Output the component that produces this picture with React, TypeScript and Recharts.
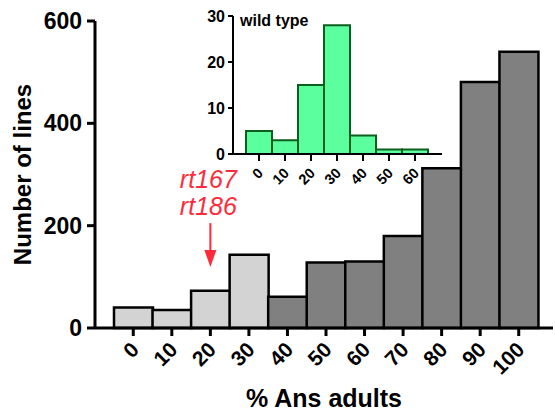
import React from 'react';
import { BarChart, Bar, XAxis, YAxis, Cell, ReferenceDot, Label } from 'recharts';

const categories = ['0', '10', '20', '30', '40', '50', '60', '70', '80', '90', '100'];
const mutantCounts = [40, 35, 73, 143, 61, 128, 130, 180, 312, 481, 540];
const lightCategories = ['0', '10', '20', '30'];
const mainYTicks = [0, 200, 400, 600];

const wildTypeCategories = ['0', '10', '20', '30', '40', '50', '60'];
const wildTypeCounts = [5, 3, 15, 28, 4, 1, 1];
const insetYTicks = [0, 10, 20, 30];

const annotationLabels = ['rt167', 'rt186'];
const annotationCategory = '20';
const annotationValue = 119;

const FONT = '"Liberation Sans", Arial, Helvetica, sans-serif';
const RED = '#ff2b3a';

const mainData = categories.map((bin, i) => ({ bin, count: mutantCounts[i] }));
const insetData = wildTypeCategories.map((bin, i) => ({ bin, count: wildTypeCounts[i] }));

const MainTick = (props: any) => {
  const { x, y, payload } = props;
  return (
    <g transform={`translate(${x + 7},${y + 13})`}>
      <text transform="rotate(-45)" textAnchor="end" fontSize={21} fontWeight="bold" fill="#000" fontFamily={FONT}>
        {payload.value}
      </text>
    </g>
  );
};

const InsetTick = (props: any) => {
  const { x, y, payload } = props;
  return (
    <g transform={`translate(${x + 5},${y + 11})`}>
      <text transform="rotate(-45)" textAnchor="end" fontSize={14.5} fontWeight="bold" fill="#000" fontFamily={FONT}>
        {payload.value}
      </text>
    </g>
  );
};

const ArrowAnnotation = (props: any) => {
  const { cx, cy } = props;
  return (
    <g>
      <text x={cx - 2} y={cy - 79} textAnchor="middle" fontSize={25} fontStyle="italic" fill={RED} fontFamily={FONT}>
        {annotationLabels[0]}
      </text>
      <text x={cx - 2} y={cy - 52} textAnchor="middle" fontSize={25} fontStyle="italic" fill={RED} fontFamily={FONT}>
        {annotationLabels[1]}
      </text>
      <line x1={cx} y1={cy - 44} x2={cx} y2={cy - 14} stroke={RED} strokeWidth={2} />
      <polygon points={`${cx - 6},${cy - 17} ${cx + 6},${cy - 17} ${cx},${cy}`} fill={RED} />
    </g>
  );
};

export default function App() {
  return (
    <div style={{ position: 'absolute', left: 0, top: 0, width: 555, height: 413, background: '#fff' }}>
      <div style={{ position: 'absolute', left: 0, top: 0 }}>
        <BarChart
          width={555}
          height={413}
          data={mainData}
          margin={{ top: 21, right: 2, bottom: 0, left: 35 }}
          barCategoryGap={0}
          barGap={0}
        >
          <XAxis
            dataKey="bin"
            type="category"
            interval={0}
            height={85}
            padding={{ left: 19, right: 15 }}
            tickSize={8}
            axisLine={{ stroke: '#000', strokeWidth: 3 }}
            tickLine={{ stroke: '#000', strokeWidth: 3 }}
            tick={<MainTick />}
          >
            <Label
              content={(p: any) => {
                const vb = p.viewBox || { x: 95, y: 328, width: 458 };
                return (
                  <text x={vb.x + vb.width / 2} y={vb.y + 79} textAnchor="middle" fontSize={25} fontWeight="bold" fill="#000" fontFamily={FONT}>
                    % Ans adults
                  </text>
                );
              }}
            />
          </XAxis>
          <YAxis
            width={60}
            domain={[0, 600]}
            ticks={mainYTicks}
            tickSize={8}
            tickMargin={5}
            axisLine={{ stroke: '#000', strokeWidth: 3 }}
            tickLine={{ stroke: '#000', strokeWidth: 3 }}
            tick={{ fontSize: 23, fontWeight: 'bold', fill: '#000', fontFamily: FONT }}
          >
            <Label
              content={(p: any) => {
                const vb = p.viewBox || { x: 35, y: 21, width: 60, height: 307 };
                const cx = vb.x - 13;
                const cy = vb.y + vb.height / 2;
                return (
                  <text
                    x={cx}
                    y={cy}
                    transform={`rotate(-90, ${cx}, ${cy})`}
                    textAnchor="middle"
                    dominantBaseline="central"
                    fontSize={24}
                    fontWeight="bold"
                    fill="#000"
                    fontFamily={FONT}
                  >
                    Number of lines
                  </text>
                );
              }}
            />
          </YAxis>
          <Bar dataKey="count" isAnimationActive={false} stroke="#000" strokeWidth={2.5}>
            {mainData.map((d) => (
              <Cell key={d.bin} fill={lightCategories.includes(d.bin) ? '#d3d3d3' : '#808080'} />
            ))}
          </Bar>
          <ReferenceDot x={annotationCategory} y={annotationValue} ifOverflow="visible" shape={<ArrowAnnotation />} />
        </BarChart>
      </div>
      <div style={{ position: 'absolute', left: 180, top: 0 }}>
        <BarChart
          width={280}
          height={200}
          data={insetData}
          margin={{ top: 16, right: 18, bottom: 0, left: 23 }}
          barCategoryGap={0}
          barGap={0}
        >
          <XAxis
            dataKey="bin"
            type="category"
            interval={0}
            height={46}
            padding={{ left: 13, right: 14 }}
            tickSize={7}
            axisLine={{ stroke: '#000', strokeWidth: 2 }}
            tickLine={{ stroke: '#000', strokeWidth: 2 }}
            tick={<InsetTick />}
          />
          <YAxis
            width={30}
            domain={[0, 30]}
            ticks={insetYTicks}
            tickSize={5}
            tickMargin={3}
            axisLine={{ stroke: '#000', strokeWidth: 2 }}
            tickLine={{ stroke: '#000', strokeWidth: 2 }}
            tick={{ fontSize: 16, fontWeight: 'bold', fill: '#000', fontFamily: FONT }}
          >
            <Label
              content={(p: any) => {
                const vb = p.viewBox || { x: 23, y: 16, width: 30, height: 138 };
                return (
                  <text x={vb.x + vb.width + 7} y={vb.y + 10} fontSize={16} fontWeight="bold" fill="#000" fontFamily={FONT}>
                    wild type
                  </text>
                );
              }}
            />
          </YAxis>
          <Bar dataKey="count" isAnimationActive={false} fill="#5cff9e" stroke="#0b5e1c" strokeWidth={2} />
        </BarChart>
      </div>
    </div>
  );
}
